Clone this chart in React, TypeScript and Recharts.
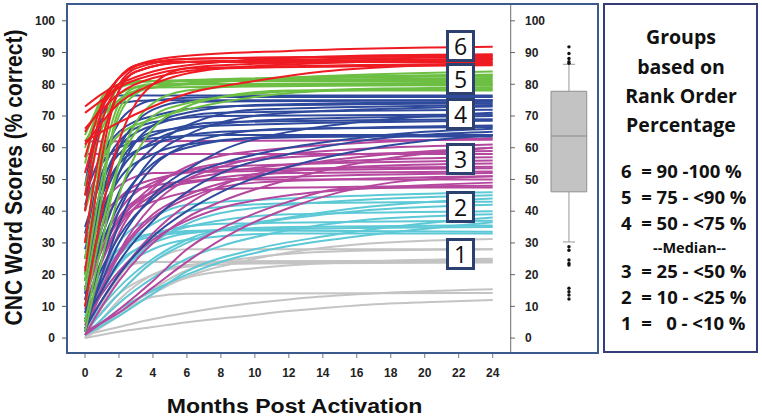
import React from 'react';
import {
  LineChart,
  Line,
  XAxis,
  YAxis,
  ComposedChart,
  Scatter,
  ReferenceArea,
  ReferenceLine,
} from 'recharts';

type Curve = [number, number][];

// ---------- data ----------
const monthTicks = [0, 2, 4, 6, 8, 10, 12, 14, 16, 18, 20, 22, 24];
const scoreTicks = [0, 10, 20, 30, 40, 50, 60, 70, 80, 90, 100];

// Group 6 (90-100 %)
const group6: Curve[] = [
  [[0, 73], [1, 77], [2, 80], [4, 84], [8, 87], [16, 89], [24, 89.5]],
  [[0, 71], [1, 75], [2, 79], [4, 83], [8, 86], [24, 88]],
  [[0, 65], [1, 73], [2, 80], [3, 84], [6, 87], [24, 88.5]],
  [[0, 57], [0.5, 66], [1, 74], [2, 82], [3, 86], [6, 88], [24, 89]],
  [[0, 52], [0.5, 62], [1, 72], [1.5, 78], [2, 82], [4, 87], [24, 88]],
  [[0, 21], [0.5, 40], [1, 57], [1.5, 70], [2, 78], [3, 84], [6, 87], [24, 87.5]],
  [[0, 30], [0.5, 48], [1, 62], [2, 78], [3, 84], [6, 87], [24, 87]],
  [[0, 61], [1, 68], [2, 74], [4, 80], [8, 85], [16, 87], [24, 88]],
  [[0, 45], [0.5, 60], [1, 72], [2, 82], [3, 86], [6, 89], [12, 90.5], [24, 91.8]],
  [[0, 66], [1, 72], [2, 77], [4, 82], [8, 85], [24, 86]],
  [[0, 10], [1, 40], [2, 62], [3, 74], [4, 80], [6, 85], [24, 86.5]],
  [[0, 40], [1, 68], [2, 80], [3, 85], [6, 88], [24, 89]],
  [[0, 62], [2, 68], [4, 73], [6, 77], [10, 81], [14, 84], [20, 86], [24, 86.5]],
];

// Group 5 (75-<90 %)
const group5: Curve[] = [
  [[0, 64], [0.5, 70], [1, 76], [1.5, 79], [2, 80], [4, 81], [24, 82]],
  [[0, 60], [0.5, 68], [1, 75], [2, 79], [4, 81], [24, 83]],
  [[0, 20], [0.5, 40], [1, 60], [1.5, 74], [2, 79], [3, 81], [24, 81.5]],
  [[0, 15], [1, 45], [1.5, 62], [2, 72], [3, 78], [4, 80], [24, 80.5]],
  [[0, 25], [1, 55], [2, 74], [3, 79], [6, 81], [24, 82.5]],
  [[0, 5], [1, 30], [2, 55], [3, 68], [4, 74], [6, 78], [12, 80], [24, 80]],
  [[0, 48], [1, 66], [2, 75], [3, 78], [6, 80], [24, 84]],
  [[0, 10], [1, 35], [2, 55], [3, 65], [4, 70], [6, 74], [10, 77], [16, 78.5], [24, 79]],
  [[0, 40], [1, 56], [2, 64], [4, 69], [6, 72], [10, 76], [15, 78], [24, 78.5]],
  [[0, 2], [1, 25], [2, 45], [3, 58], [4, 66], [6, 73], [8, 76], [12, 78], [24, 78]],
  [[0, 55], [0.5, 66], [1, 74], [2, 79], [4, 81], [24, 81]],
  [[0, 18], [1, 50], [2, 70], [3, 77], [4, 79], [24, 80]],
  [[0, 62], [1, 70], [2, 75], [4, 79], [8, 81], [24, 83]],
  [[0, 30], [1, 62], [1.5, 72], [2, 77], [4, 80], [24, 79.5]],
];

// Group 4 (50-<75 %)
const group4: Curve[] = [
  [[0, 40], [0.5, 58], [1, 70], [1.5, 75], [2, 76.5], [24, 76.5]],
  [[0, 30], [1, 55], [2, 68], [3, 73], [4, 75], [8, 76], [24, 76]],
  [[0, 20], [1, 45], [2, 60], [3, 68], [4, 72], [6, 74.5], [24, 75]],
  [[0, 12], [1, 35], [2, 52], [3, 62], [4, 67], [6, 71], [10, 73.5], [24, 74.5]],
  [[0, 45], [1, 58], [2, 65], [4, 70], [8, 73], [24, 74]],
  [[0, 8], [1, 25], [2, 40], [3, 50], [4, 57], [6, 64], [8, 68], [12, 71], [24, 73]],
  [[0, 25], [1, 48], [2, 60], [4, 67], [8, 71], [24, 72]],
  [[0, 5], [1, 18], [2, 30], [4, 45], [6, 53], [8, 59], [12, 65], [16, 68], [24, 71]],
  [[0, 15], [1, 38], [2, 52], [4, 62], [6, 66], [12, 69], [24, 70]],
  [[0, 35], [1, 50], [2, 58], [4, 64], [8, 68], [24, 69]],
  [[0, 10], [1, 22], [2, 32], [4, 44], [6, 51], [8, 55], [12, 60], [16, 63], [20, 65], [24, 66]],
  [[0, 18], [1, 42], [2, 55], [3, 62], [4, 65], [8, 67], [24, 68.5]],
  [[0, 28], [1, 45], [2, 55], [4, 61], [8, 65], [24, 67]],
  [[0, 6], [1, 15], [2, 24], [4, 37], [6, 46], [8, 52], [12, 58], [16, 62], [24, 65]],
  [[0, 42], [1, 55], [2, 60], [4, 63], [8, 64], [24, 64]],
  [[0, 3], [1, 12], [2, 20], [4, 32], [6, 40], [8, 46], [12, 54], [16, 59], [24, 64]],
  [[0, 22], [1, 40], [2, 50], [4, 58], [6, 61], [12, 63.5], [24, 63.5]],
  [[0, 48], [0.5, 62], [1, 70], [2, 74], [4, 75], [24, 75]],
  [[0, 14], [1, 32], [2, 46], [4, 60], [6, 67], [10, 72], [24, 73.5]],
  [[0, 33], [1, 52], [2, 62], [4, 68], [8, 70], [24, 70.5]],
  [[0, 2], [1, 20], [2, 36], [3, 47], [4, 54], [6, 61], [8, 64], [12, 66], [24, 66.5]],
  [[0, 16], [1, 30], [2, 42], [4, 55], [6, 60], [10, 63], [24, 64]],
];

// Group 3 (25-<50 %)
const group3: Curve[] = [
  [[0, 62], [24, 62.5]],
  [[0, 58], [24, 58]],
  [[0, 2], [1, 15], [2, 27], [4, 42], [6, 50], [8, 54], [12, 58], [24, 61]],
  [[0, 5], [1, 20], [2, 33], [4, 47], [6, 54], [10, 59], [24, 63]],
  [[0, 10], [1, 25], [2, 36], [4, 48], [6, 53], [12, 57], [24, 59]],
  [[0, 3], [1, 12], [2, 20], [4, 33], [6, 42], [8, 48], [12, 54], [16, 57], [24, 60]],
  [[0, 15], [1, 30], [2, 40], [4, 49], [8, 54], [24, 56]],
  [[0, 8], [1, 18], [2, 27], [4, 39], [6, 45], [10, 51], [16, 54], [24, 55]],
  [[0, 20], [1, 35], [2, 44], [4, 50], [8, 53], [24, 54]],
  [[0, 2], [2, 8], [4, 16], [6, 24], [9, 34], [12, 41], [15, 46], [18, 49], [24, 51]],
  [[0, 12], [1, 28], [2, 38], [4, 46], [8, 50], [24, 52]],
  [[0, 4], [1, 16], [2, 26], [4, 38], [6, 44], [10, 49], [24, 51]],
  [[0, 25], [1, 38], [2, 44], [4, 48], [8, 50], [24, 50]],
  [[0, 6], [1, 14], [2, 21], [4, 31], [6, 37], [8, 41], [12, 45], [16, 47], [24, 49]],
  [[0, 18], [1, 30], [2, 37], [4, 43], [8, 47], [24, 48]],
  [[0, 1], [2, 9], [4, 18], [6, 28], [9, 37], [12, 43], [15, 47], [20, 47.5], [24, 47.5]],
  [[0, 30], [1, 42], [2, 48], [4, 52], [24, 53.5]],
  [[0, 9], [1, 24], [2, 35], [4, 45], [6, 49], [12, 52], [24, 52.5]],
  [[0, 14], [1, 28], [2, 37], [4, 46], [8, 52], [16, 56], [24, 57]],
  [[0, 1], [1, 10], [2, 18], [4, 30], [6, 38], [8, 43], [12, 50], [16, 55], [24, 60]],
];

// Group 2 (10-<25 %)
const group2: Curve[] = [
  [[0, 2], [1, 8], [2, 14], [4, 24], [6, 30], [8, 34], [12, 38], [16, 41], [24, 44]],
  [[0, 3], [1, 12], [2, 20], [4, 30], [6, 36], [10, 41], [24, 45]],
  [[0, 5], [1, 15], [2, 23], [4, 31], [6, 35], [12, 39], [24, 40]],
  [[0, 1], [1, 6], [2, 11], [4, 19], [6, 25], [8, 29], [12, 34], [16, 37], [24, 39]],
  [[0, 8], [1, 18], [2, 26], [4, 33], [8, 36], [24, 37]],
  [[0, 2], [1, 5], [2, 9], [4, 15], [6, 20], [8, 24], [12, 29], [16, 32], [24, 36.5]],
  [[0, 10], [1, 20], [2, 27], [4, 32], [8, 34], [24, 35]],
  [[0, 4], [1, 14], [2, 21], [4, 28], [6, 31], [12, 33], [24, 33]],
  [[0, 6], [1, 20], [2, 30], [4, 38], [6, 42], [12, 44], [24, 46]],
  [[0, 3], [1, 10], [2, 16], [4, 25], [6, 31], [10, 36], [16, 40], [24, 42]],
  [[0, 2], [1, 16], [2, 26], [4, 36], [6, 40], [12, 42.5], [24, 43]],
  [[0, 12], [1, 22], [2, 28], [4, 33], [8, 34], [24, 33.5]],
  [[0, 1], [2, 7], [4, 14], [6, 21], [10, 28], [14, 32], [18, 35], [24, 38]],
  [[0, 7], [1, 17], [2, 24], [4, 30], [6, 33], [12, 35], [24, 35.5]],
];

// Group 1 (0-<10 %)
const group1: Curve[] = [
  [[0, 0], [2, 7], [4, 14], [6, 19.3], [10, 25], [16, 29.5], [24, 31.2]],
  [[0, 1], [2, 8], [4, 15.5], [6, 21.4], [10, 25.5], [16, 27.5], [24, 28]],
  [[0, 2], [2, 14], [4, 24], [6, 28], [24, 28]],
  [[0, 0], [1, 10], [2, 19], [2.5, 23], [3, 24], [24, 24.5]],
  [[0, 1], [1, 11], [2, 20], [3, 23.5], [4, 24], [24, 24]],
  [[0, 2], [2, 14], [4, 20], [6, 22.5], [10, 23.5], [24, 23.8]],
  [[0, 0], [2, 8], [4, 15], [6, 19], [10, 22], [16, 24], [24, 25]],
  [[0, 0], [1, 6], [2, 12], [4, 20], [6, 23], [10, 24.2], [24, 24.2]],
  [[0, 2], [2, 8], [4, 13], [6, 14], [24, 14.2]],
  [[0, 0], [2, 2], [4, 3.5], [6, 5], [9, 6.7], [12, 8.5], [16, 10.3], [20, 11.3], [24, 12]],
  [[0, 1], [2, 3.5], [4, 6], [6, 8], [9, 10.4], [12, 12.2], [16, 13.8], [24, 15.4]],
];

// Box plot of final scores
const boxQ1 = 46.1;
const boxMedian = 63.7;
const boxQ3 = 77.8;
const whiskerLow = 30.3;
const whiskerHigh = 86.3;
const outliers = [91.8, 89.7, 88.1, 87.1, 86.6, 28.8, 27.7, 24.6, 23.5, 23, 15.7, 14.6, 13.6, 12.3];

// Text
const groupLabels = ['6', '5', '4', '3', '2', '1'];
const legendTitle = ['Groups', 'based on', 'Rank Order', 'Percentage'];
const legendRows = ['6  = 90 -100 %', '5  = 75 - <90 %', '4  = 50 - <75 %', '3  = 25 - <50 %', '2  = 10 - <25 %', '1  =   0 - <10 %'];
const medianText = '--Median--';
const yTitle = 'CNC Word Scores (% correct)';
const xTitle = 'Months Post Activation';

// ---------- styles / layout ----------
const FONT = '"Liberation Sans", Arial, sans-serif';
const LEGEND_FONT = '"Open Sans", "Liberation Sans", sans-serif';
const Y_DOMAIN: [number, number] = [-4.7, 105.3];
const X_DOMAIN: [number, number] = [-1.06, 25.02];

const seriesGroups: { curves: Curve[]; color: string }[] = [
  { curves: group1, color: '#c4c4c4' },
  { curves: group2, color: '#5ec9d6' },
  { curves: group3, color: '#b5489e' },
  { curves: group4, color: '#2f4a9d' },
  { curves: group5, color: '#6cbf43' },
  { curves: group6, color: '#ef1b23' },
];

const groupBoxTops = [30, 63, 98, 143, 191, 238];
const legendRowBaselines = [178, 204, 230, 278, 304, 330];
const legendTitleBaselines = [44, 74, 103, 132];

const tickStyle = { fontSize: 12, fontWeight: 700, fill: '#222', fontFamily: FONT };

export default function App() {
  const boxX1 = 0.466;
  const boxX2 = 0.872;
  const boxXc = 0.67;
  const outlierData = outliers.map((v) => ({ x: boxXc, y: v }));

  return (
    <div
      style={{
        position: 'fixed',
        left: 0,
        top: 0,
        width: 762,
        height: 418,
        background: '#fff',
        overflow: 'hidden',
      }}
    >
      <div style={{ position: 'absolute', left: 0, top: 0 }}>
        <LineChart width={520} height={418} margin={{ top: 4, right: 10, bottom: 35, left: 27 }}>
          <XAxis
            type="number"
            dataKey="m"
            domain={X_DOMAIN}
            ticks={monthTicks}
            allowDataOverflow
            interval={0}
            axisLine={false}
            tickLine={{ stroke: '#6a7a95' }}
            tickSize={5}
            tickMargin={10}
            height={30}
            tick={tickStyle}
          />
          <YAxis
            type="number"
            domain={Y_DOMAIN}
            ticks={scoreTicks}
            allowDataOverflow
            interval={0}
            width={40}
            axisLine={false}
            tickLine={{ stroke: '#555' }}
            tickSize={5}
            tickMargin={7}
            tick={tickStyle}
          />
          {seriesGroups.map((g, gi) =>
            g.curves.map((c, ci) => (
              <Line
                key={`g${gi}-${ci}`}
                data={c.map(([m, v]) => ({ m, v }))}
                dataKey="v"
                type="monotone"
                stroke={g.color}
                strokeWidth={2}
                dot={false}
                activeDot={false}
                isAnimationActive={false}
              />
            ))
          )}
        </LineChart>
      </div>

      <div style={{ position: 'absolute', left: 510, top: 0 }}>
        <ComposedChart width={88} height={418} margin={{ top: 4, right: 0, bottom: 65, left: 0 }}>
          <XAxis type="number" dataKey="x" domain={[0, 1]} hide allowDataOverflow />
          <YAxis
            type="number"
            dataKey="y"
            domain={Y_DOMAIN}
            ticks={scoreTicks}
            allowDataOverflow
            interval={0}
            orientation="left"
            mirror
            axisLine={{ stroke: '#8a8a8a', strokeWidth: 2.5 }}
            tickLine={{ stroke: '#666' }}
            tickSize={5}
            tickMargin={10}
            tick={tickStyle}
          />
          <ReferenceLine
            segment={[{ x: boxXc, y: whiskerLow }, { x: boxXc, y: boxQ1 }]}
            stroke="#999"
            strokeWidth={1}
          />
          <ReferenceLine
            segment={[{ x: boxXc, y: boxQ3 }, { x: boxXc, y: whiskerHigh }]}
            stroke="#999"
            strokeWidth={1}
          />
          <ReferenceLine
            segment={[{ x: 0.6, y: whiskerLow }, { x: 0.74, y: whiskerLow }]}
            stroke="#999"
            strokeWidth={1}
          />
          <ReferenceLine
            segment={[{ x: 0.6, y: whiskerHigh }, { x: 0.74, y: whiskerHigh }]}
            stroke="#999"
            strokeWidth={1}
          />
          <ReferenceArea
            x1={boxX1}
            x2={boxX2}
            y1={boxQ1}
            y2={boxQ3}
            fill="#c3c3c3"
            fillOpacity={1}
            stroke="#8f8f8f"
            strokeWidth={1}
          />
          <ReferenceLine
            segment={[{ x: boxX1, y: boxMedian }, { x: boxX2, y: boxMedian }]}
            stroke="#8a8a8a"
            strokeWidth={1.2}
          />
          <Scatter
            data={outlierData}
            dataKey="y"
            isAnimationActive={false}
            shape={(p: any) => <circle cx={p.cx} cy={p.cy} r={1.7} fill="#111" />}
          />
        </ComposedChart>
      </div>

      <svg
        width={762}
        height={418}
        style={{ position: 'absolute', left: 0, top: 0, pointerEvents: 'none' }}
      >
        <rect x={67} y={4} width={531} height={349} fill="none" stroke="#3d5a8c" strokeWidth={2} />
        <rect x={604} y={4} width={153} height={348} fill="none" stroke="#353d78" strokeWidth={2} />

        {groupLabels.map((lab, i) => (
          <g key={lab}>
            <rect
              x={447.5}
              y={groupBoxTops[i] + 1.5}
              width={26}
              height={29}
              fill="#fff"
              stroke="#2c4170"
              strokeWidth={3}
            />
            <text
              x={460.5}
              y={groupBoxTops[i] + 24.5}
              textAnchor="middle"
              fontSize={23}
              fontFamily={LEGEND_FONT}
              fill="#111"
            >
              {lab}
            </text>
          </g>
        ))}

        <text
          transform="translate(22,177.5) scale(1.1,1) rotate(-90)"
          textAnchor="middle"
          fontSize={21}
          fontWeight={700}
          fontFamily={FONT}
          fill="#111"
        >
          {yTitle}
        </text>
        <text
          transform="translate(294.5,413) scale(1.1,1)"
          textAnchor="middle"
          fontSize={21}
          fontWeight={700}
          fontFamily={FONT}
          fill="#111"
        >
          {xTitle}
        </text>

        {legendTitle.map((t, i) => (
          <text
            key={t}
            x={681}
            y={legendTitleBaselines[i]}
            textAnchor="middle"
            fontSize={19.5}
            fontWeight={700}
            fontFamily={LEGEND_FONT}
            fill="#111"
          >
            {t}
          </text>
        ))}
        {legendRows.map((t, i) => (
          <text
            key={t}
            x={621}
            y={legendRowBaselines[i]}
            fontSize={18.5}
            fontWeight={700}
            fontFamily={LEGEND_FONT}
            fill="#111"
            style={{ whiteSpace: 'pre' }}
            xmlSpace="preserve"
          >
            {t}
          </text>
        ))}
        <text
          x={689.5}
          y={253}
          textAnchor="middle"
          fontSize={14.5}
          fontWeight={700}
          fontFamily={LEGEND_FONT}
          fill="#111"
        >
          {medianText}
        </text>
      </svg>
    </div>
  );
}
